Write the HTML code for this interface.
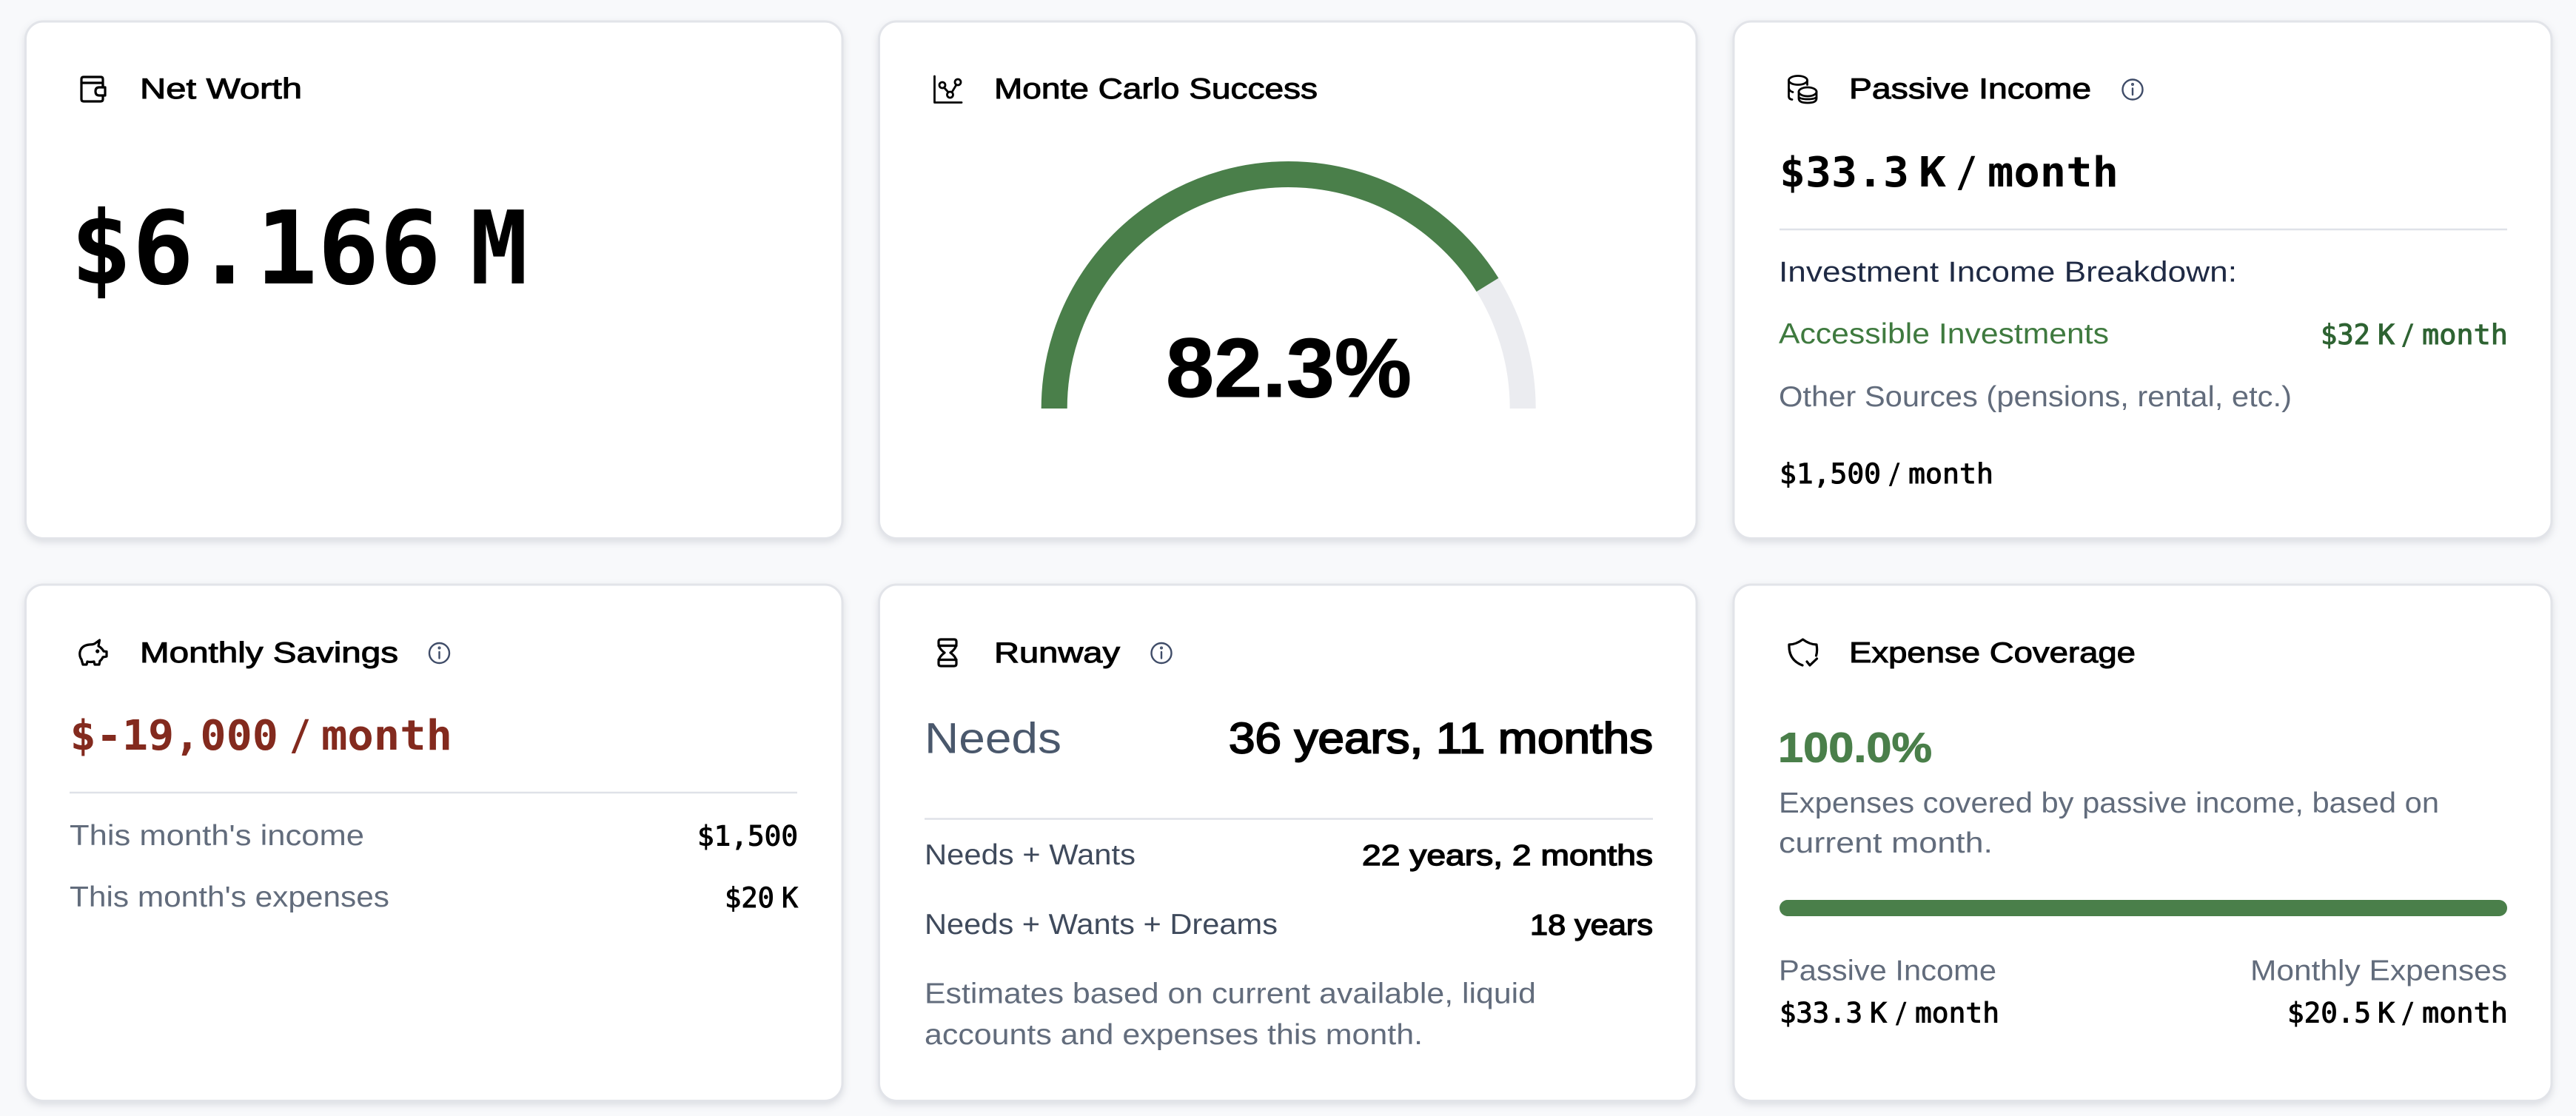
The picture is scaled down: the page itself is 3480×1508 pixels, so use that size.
<!DOCTYPE html>
<html lang="en">
<head>
<meta charset="utf-8">
<title>Financial Dashboard</title>
<style>
html,body{margin:0;padding:0;background:#f8f9fb;width:3480px;height:1508px;overflow:hidden}
svg{display:block}
text{font-family:"Liberation Sans",sans-serif;white-space:pre}
.card{fill:#fff;stroke:#e2e4e9;stroke-width:3;filter:drop-shadow(0 4px 5px rgba(30,40,60,.13))}
.title{font-size:39px;fill:#000;stroke:#000;stroke-width:1px}
.body{font-size:39px;fill:#626c7c}
.dark{font-size:39px;fill:#3f4a5c}
.mono{font-family:"DejaVu Sans Mono","Liberation Mono",monospace;font-weight:bold;fill:#000}
.m-big{font-size:137px}
.m-lg{font-size:56px}
.m-sm{font-size:37px;font-weight:normal;stroke:currentColor;stroke-width:1px}
.icon{fill:none;stroke:#000;stroke-width:3.2;stroke-linecap:round;stroke-linejoin:round}
.info{fill:none;stroke:#3f4c68;stroke-width:2.4;stroke-linecap:round}
.rule{stroke:#dfe2e8;stroke-width:2.4}
</style>
</head>
<body>
<svg id="dash" width="3480" height="1508" viewBox="0 0 3480 1508" xmlns="http://www.w3.org/2000/svg">

<g>
  <rect class="card" x="34.500" y="29" width="1103.500" height="698.500" rx="24"/>
  <g class="icon">
    <path d="M139 118V107Q139 104 136 104H113Q110 104 110 107V134Q110 137 113 137H136Q139 137 139 134V129"/>
    <path d="M110 112H137Q139 112 139 114V118"/>
    <path d="M142 118H134Q129 118 129 123.500Q129 129 134 129H142Z"/>
  </g>
  <text class="title" x="189" y="133" textLength="219" lengthAdjust="spacingAndGlyphs">Net Worth</text>
  <g>
    <text class="mono m-big" x="95" y="383" textLength="501" lengthAdjust="spacingAndGlyphs">$6.166</text>
    <text class="mono m-big" x="635" y="383" textLength="78" lengthAdjust="spacingAndGlyphs">M</text>
  </g>
</g>

<g>
  <rect class="card" x="1187.500" y="29" width="1104.500" height="698.500" rx="24"/>
  <g class="icon" style="stroke-width:2.8">
    <path d="M1262.500 103V138.500H1299"/>
    <circle cx="1273" cy="115" r="4"/><circle cx="1283.500" cy="128" r="4"/><circle cx="1294" cy="111" r="4"/>
    <path d="M1275.500 118.500L1281 124.500M1286 124.500L1292 114.500"/>
  </g>
  <text class="title" x="1343" y="133" textLength="437" lengthAdjust="spacingAndGlyphs">Monte Carlo Success</text>
  <g id="gauge"></g>
  <text x="1575" y="536" font-size="113" font-weight="bold" fill="#000" stroke="#000" stroke-width="1" textLength="332" lengthAdjust="spacingAndGlyphs">82.3%</text>
</g>

<g>
  <rect class="card" x="2342" y="29" width="1105" height="698.500" rx="24"/>
  <g class="icon" style="stroke-width:2.8">
    <ellipse cx="2429" cy="108.500" rx="12.500" ry="6"/>
    <path d="M2416.500 108.500V130Q2416.500 134 2421 134.500M2416.500 119Q2417 123 2422 124.500"/>
    <path d="M2441.500 114.500V109"/>
    <ellipse cx="2442" cy="124" rx="12" ry="6"/>
    <path d="M2430 124V133Q2430 139 2442 139Q2454 139 2454 133V124M2430 131Q2432 134 2442 134Q2452 134 2454 131"/>
  </g>
  <text class="title" x="2498" y="133" textLength="327" lengthAdjust="spacingAndGlyphs">Passive Income</text>
  <g class="info">
    <circle cx="2881" cy="121" r="13.500"/><path d="M2881 119.500V128"/><circle cx="2881" cy="114" r=".8"/>
  </g>
  <g>
    <text class="mono m-lg" x="2404" y="252" textLength="175" lengthAdjust="spacingAndGlyphs">$33.3</text>
    <text class="mono m-lg" x="2592" y="252" textLength="37" lengthAdjust="spacingAndGlyphs">K</text>
    <text class="mono m-lg" x="2642" y="252" textLength="29" lengthAdjust="spacingAndGlyphs">/</text>
    <text class="mono m-lg" x="2685" y="252" textLength="177" lengthAdjust="spacingAndGlyphs">month</text>
  </g>
  <line class="rule" x1="2404" y1="310" x2="3387" y2="310"/>
  <text class="dark" style="fill:#1f2a44" x="2403" y="380.500" textLength="619" lengthAdjust="spacingAndGlyphs">Investment Income Breakdown:</text>
  <text class="body" style="fill:#3f7a3f" x="2403" y="464" textLength="446" lengthAdjust="spacingAndGlyphs">Accessible Investments</text>
  <g style="color:#2e6332">
    <text class="mono m-sm" style="fill:#2e6332" x="3135" y="465" textLength="67" lengthAdjust="spacingAndGlyphs">$32</text>
    <text class="mono m-sm" style="fill:#2e6332" x="3212" y="465" textLength="23" lengthAdjust="spacingAndGlyphs">K</text>
    <text class="mono m-sm" style="fill:#2e6332" x="3244" y="465" textLength="18" lengthAdjust="spacingAndGlyphs">/</text>
    <text class="mono m-sm" style="fill:#2e6332" x="3272" y="465" textLength="116" lengthAdjust="spacingAndGlyphs">month</text>
  </g>
  <text class="body" x="2403" y="549" textLength="693" lengthAdjust="spacingAndGlyphs">Other Sources (pensions, rental, etc.)</text>
  <g style="color:#000">
    <text class="mono m-sm" x="2404" y="653" textLength="137" lengthAdjust="spacingAndGlyphs">$1,500</text>
    <text class="mono m-sm" x="2551" y="653" textLength="17" lengthAdjust="spacingAndGlyphs">/</text>
    <text class="mono m-sm" x="2578" y="653" textLength="115" lengthAdjust="spacingAndGlyphs">month</text>
  </g>
</g>

<g>
  <rect class="card" x="34.500" y="790" width="1103.500" height="697.500" rx="24"/>
  <g class="icon">
    <path d="M134.500 865L133 873Q138 876 140 880L144 880.500V887L139 888Q137 892 135 893L134 898H128L127 894Q122 895 118 894L117 898H112L110 891Q107 887 108 881Q110 872 121 871Q127 871 129 869Z"/>
    <circle cx="131.700" cy="880" r="1" style="fill:#000"/>
  </g>
  <text class="title" x="189" y="895" textLength="349" lengthAdjust="spacingAndGlyphs">Monthly Savings</text>
  <g class="info">
    <circle cx="593.500" cy="882.500" r="13.500"/><path d="M593.500 881V889.500"/><circle cx="593.500" cy="875.500" r=".8"/>
  </g>
  <g>
    <text class="mono m-lg" style="fill:#832a1e" x="94.500" y="1013" textLength="281.500" lengthAdjust="spacingAndGlyphs">$-19,000</text>
    <text class="mono m-lg" style="fill:#832a1e" x="391" y="1013" textLength="29" lengthAdjust="spacingAndGlyphs">/</text>
    <text class="mono m-lg" style="fill:#832a1e" x="434" y="1013" textLength="177" lengthAdjust="spacingAndGlyphs">month</text>
  </g>
  <line class="rule" x1="94" y1="1071" x2="1077" y2="1071"/>
  <text class="body" x="94" y="1142" textLength="398" lengthAdjust="spacingAndGlyphs">This month's income</text>
  <text class="mono m-sm" style="color:#000" x="942" y="1142.500" textLength="136" lengthAdjust="spacingAndGlyphs">$1,500</text>
  <text class="body" x="94" y="1225" textLength="432" lengthAdjust="spacingAndGlyphs">This month's expenses</text>
  <g style="color:#000">
    <text class="mono m-sm" x="979" y="1226" textLength="67" lengthAdjust="spacingAndGlyphs">$20</text>
    <text class="mono m-sm" x="1056" y="1226" textLength="22" lengthAdjust="spacingAndGlyphs">K</text>
  </g>
</g>

<g>
  <rect class="card" x="1187.500" y="790" width="1104.500" height="697.500" rx="24"/>
  <g class="icon">
    <path d="M1271 864H1289Q1292 864 1292 867V870Q1292 876 1284 882Q1292 888 1292 894V897Q1292 900 1289 900H1271Q1268 900 1268 897V894Q1268 888 1276 882Q1268 876 1268 870V867Q1268 864 1271 864Z"/>
    <path d="M1268 872.500H1292M1268 891.500H1292"/>
  </g>
  <text class="title" x="1343" y="895" textLength="170" lengthAdjust="spacingAndGlyphs">Runway</text>
  <g class="info">
    <circle cx="1569" cy="882.500" r="13.500"/><path d="M1569 881V889.500"/><circle cx="1569" cy="875.500" r=".8"/>
  </g>
  <text x="1249" y="1017.500" font-size="58" fill="#4a586c" textLength="185" lengthAdjust="spacingAndGlyphs">Needs</text>
  <text x="1660" y="1017.500" font-size="58" fill="#000" stroke="#000" stroke-width="2" textLength="573" lengthAdjust="spacingAndGlyphs">36 years, 11 months</text>
  <line class="rule" x1="1249" y1="1106.500" x2="2233" y2="1106.500"/>
  <text class="dark" x="1249" y="1168" textLength="285" lengthAdjust="spacingAndGlyphs">Needs + Wants</text>
  <text class="title" style="stroke-width:1.4px" x="1840" y="1169" textLength="393" lengthAdjust="spacingAndGlyphs">22 years, 2 months</text>
  <text class="dark" x="1249" y="1262" textLength="477" lengthAdjust="spacingAndGlyphs">Needs + Wants + Dreams</text>
  <text class="title" style="stroke-width:1.4px" x="2067" y="1263" textLength="166" lengthAdjust="spacingAndGlyphs">18 years</text>
  <text class="body" x="1249" y="1355.500" textLength="826" lengthAdjust="spacingAndGlyphs">Estimates based on current available, liquid</text>
  <text class="body" x="1249" y="1411" textLength="673" lengthAdjust="spacingAndGlyphs">accounts and expenses this month.</text>
</g>

<g>
  <rect class="card" x="2342" y="790" width="1105" height="697.500" rx="24"/>
  <g class="icon">
    <path d="M2453.500 886Q2455.500 880 2454 871Q2445 871 2435.500 864Q2426 871 2417 871Q2416 892 2435 899"/>
    <path d="M2441 894L2445 899L2454.500 890"/>
  </g>
  <text class="title" x="2498" y="895" textLength="387" lengthAdjust="spacingAndGlyphs">Expense Coverage</text>
  <text x="2402" y="1029.500" font-size="57" font-weight="bold" fill="#4a7f4a" stroke="#4a7f4a" stroke-width="1" textLength="208" lengthAdjust="spacingAndGlyphs">100.0%</text>
  <text class="body" x="2403" y="1098" textLength="892" lengthAdjust="spacingAndGlyphs">Expenses covered by passive income, based on</text>
  <text class="body" x="2403" y="1152" textLength="289" lengthAdjust="spacingAndGlyphs">current month.</text>
  <g id="coverage-bar"></g>
  <text class="body" x="2403" y="1324.500" textLength="294" lengthAdjust="spacingAndGlyphs">Passive Income</text>
  <text class="body" x="3040" y="1324.500" textLength="347" lengthAdjust="spacingAndGlyphs">Monthly Expenses</text>
  <g style="color:#000">
    <text class="mono m-sm" x="2404" y="1381.500" textLength="112" lengthAdjust="spacingAndGlyphs">$33.3</text>
    <text class="mono m-sm" x="2526" y="1381.500" textLength="23" lengthAdjust="spacingAndGlyphs">K</text>
    <text class="mono m-sm" x="2560" y="1381.500" textLength="17" lengthAdjust="spacingAndGlyphs">/</text>
    <text class="mono m-sm" x="2587" y="1381.500" textLength="114" lengthAdjust="spacingAndGlyphs">month</text>
  </g>
  <g style="color:#000">
    <text class="mono m-sm" x="3090" y="1381.500" textLength="113" lengthAdjust="spacingAndGlyphs">$20.5</text>
    <text class="mono m-sm" x="3212" y="1381.500" textLength="23" lengthAdjust="spacingAndGlyphs">K</text>
    <text class="mono m-sm" x="3244" y="1381.500" textLength="18" lengthAdjust="spacingAndGlyphs">/</text>
    <text class="mono m-sm" x="3272" y="1381.500" textLength="116" lengthAdjust="spacingAndGlyphs">month</text>
  </g>
</g>
</svg>

<script>
const gaugeValues = [82.3];
const coverageValues = [100];

const NS = 'http://www.w3.org/2000/svg';
const gaugeAxis = { cx: 1740.7, cy: 552, r: 316.5, width: 35, min: 0, max: 100 };
const barAxis = { x: 2404, y: 1216, width: 983, height: 22, min: 0, max: 100 };

function gaugePoint(v) {
  const t = (v - gaugeAxis.min) / (gaugeAxis.max - gaugeAxis.min);
  const a = Math.PI * (1 - t);
  return [gaugeAxis.cx + gaugeAxis.r * Math.cos(a), gaugeAxis.cy - gaugeAxis.r * Math.sin(a)];
}
function gaugeArc(from, to) {
  const p0 = gaugePoint(from);
  const p1 = gaugePoint(to);
  return 'M' + p0[0] + ' ' + p0[1] + 'A' + gaugeAxis.r + ' ' + gaugeAxis.r + ' 0 0 1 ' + p1[0] + ' ' + p1[1];
}
function barWidth(v) {
  return barAxis.width * (v - barAxis.min) / (barAxis.max - barAxis.min);
}

const gaugeGroup = document.getElementById('gauge');
const track = document.createElementNS(NS, 'path');


track.setAttribute('d', gaugeArc(gaugeAxis.min, gaugeAxis.max));
track.setAttribute('fill', 'none');
track.setAttribute('stroke', '#ebecf0');
track.setAttribute('stroke-width', gaugeAxis.width);
gaugeGroup.appendChild(track);

gaugeValues.forEach(function (v) {
  const arc = document.createElementNS(NS, 'path');
  
  
  arc.setAttribute('d', gaugeArc(gaugeAxis.min, v));
  arc.setAttribute('fill', 'none');
  arc.setAttribute('stroke', '#4a7f4a');
  arc.setAttribute('stroke-width', gaugeAxis.width);
  gaugeGroup.appendChild(arc);
});

const barGroup = document.getElementById('coverage-bar');
const barTrack = document.createElementNS(NS, 'rect');


barTrack.setAttribute('x', barAxis.x);
barTrack.setAttribute('y', barAxis.y);
barTrack.setAttribute('width', barAxis.width);
barTrack.setAttribute('height', barAxis.height);
barTrack.setAttribute('rx', barAxis.height / 2);
barTrack.setAttribute('fill', '#ebecf0');
barGroup.appendChild(barTrack);

coverageValues.forEach(function (v) {
  const fill = document.createElementNS(NS, 'rect');
  
  
  fill.setAttribute('x', barAxis.x);
  fill.setAttribute('y', barAxis.y);
  fill.setAttribute('width', barWidth(v));
  fill.setAttribute('height', barAxis.height);
  fill.setAttribute('rx', barAxis.height / 2);
  fill.setAttribute('fill', '#4a7f4a');
  barGroup.appendChild(fill);
});
</script>
</body>
</html>
